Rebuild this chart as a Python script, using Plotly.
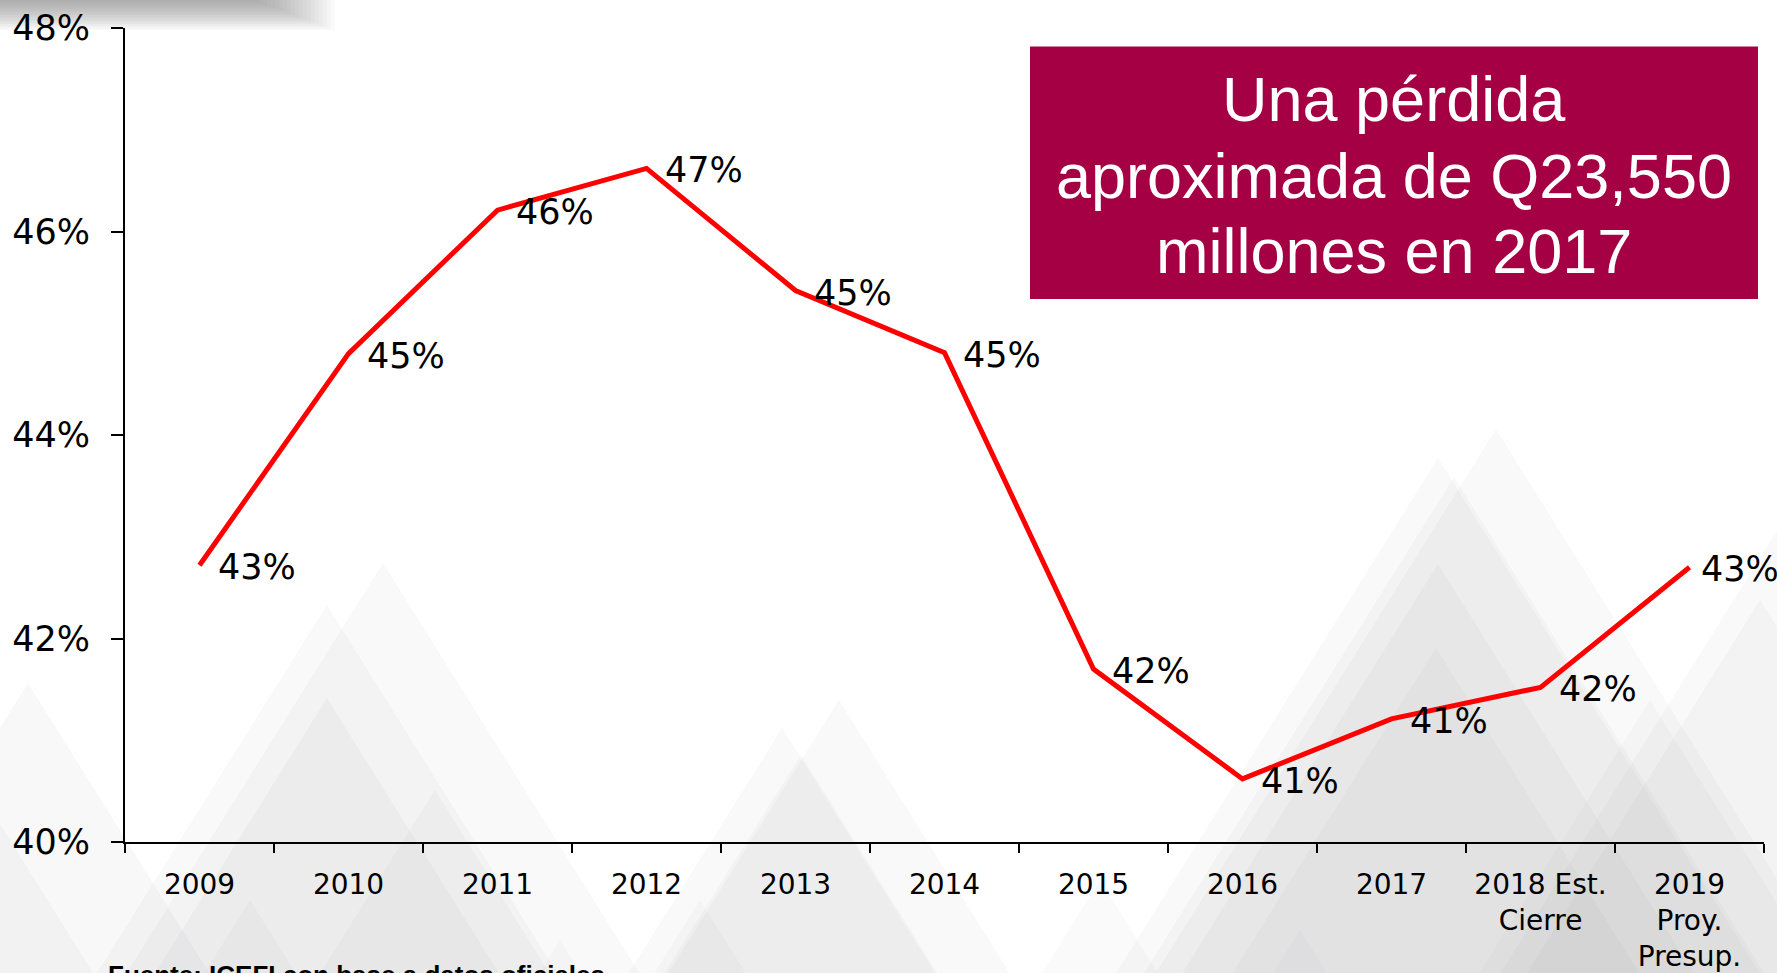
import plotly.graph_objects as go

# ---------------- data ----------------
categories = ["2009", "2010", "2011", "2012", "2013", "2014", "2015", "2016",
              "2017", "2018 Est.<br>Cierre", "2019<br>Proy.<br>Presup."]
values = [42.72, 44.80, 46.21, 46.62, 45.42, 44.81, 41.70, 40.62, 41.21, 41.52, 42.70]
labels = ["43%", "45%", "46%", "47%", "45%", "45%", "42%", "41%", "41%", "42%", "43%"]
y_ticks = [40, 42, 44, 46, 48]
box_lines = ["Una pérdida", "aproximada de Q23,550", "millones en 2017"]
source_text = "Fuente: ICEFI con base a datos oficiales"

# ---------------- geometry helpers ----------------
W, H = 1777, 973
L, R, T, B = 125, 13, 28, 131
PW, PH = W - L - R, H - T - B


def px(x):
    return (x - L) / PW


def py(y):
    return (H - B - y) / PH


n = len(values)
idx = list(range(n))

fig = go.Figure()

fig.add_trace(go.Scatter(
    x=idx, y=values, mode="lines",
    line=dict(color="#FF0000", width=5),
    hoverinfo="skip", showlegend=False,
))

# data labels
for i, (v, t) in enumerate(zip(values, labels)):
    fig.add_annotation(
        x=i, y=v, xref="x", yref="y", text=t, showarrow=False,
        xanchor="left", yanchor="middle",
        xshift=16 if i < n - 1 else 9, yshift=-2,
        font=dict(family="DejaVu Sans", size=35, color="black"),
    )

shapes = []

# decorative background triangles (mountain pattern)
tri = [
    (383, 563, 0.05), (327, 605, 0.05), (327, 698, 0.06), (28, 683, 0.06),
    (-40, 760, 0.05), (435, 790, 0.05), (250, 900, 0.045),
    (839, 700, 0.05), (782, 728, 0.05), (801, 755, 0.05), (700, 900, 0.045),
    (1496, 429, 0.05), (1438, 458, 0.05), (1454, 477, 0.05), (1438, 564, 0.06),
    (1436, 648, 0.05), (1790, 510, 0.05), (1760, 600, 0.05), (1650, 700, 0.045),
    (1100, 880, 0.045), (560, 940, 0.04), (1300, 930, 0.04),
]
s = 1.6
base = 1010
for (x0, y0, op) in tri:
    hw = (base - y0) / s
    path = "M {:.4f},{:.4f} L {:.4f},{:.4f} L {:.4f},{:.4f} Z".format(
        px(x0 - hw), py(base), px(x0), py(y0), px(x0 + hw), py(base))
    shapes.append(dict(type="path", path=path, xref="paper", yref="paper",
                       fillcolor="rgb(140,140,146)", opacity=op,
                       line=dict(width=0), layer="below"))

# top-left soft shadow
for k in range(20):
    shapes.append(dict(type="rect", xref="paper", yref="paper",
                       x0=px(-10), x1=px(335 - 4 * k), y0=py(-10), y1=py(30 - 1.5 * k),
                       fillcolor="rgb(110,110,110)", opacity=0.03,
                       line=dict(width=0), layer="below"))

# callout box
shapes.append(dict(type="rect", xref="paper", yref="paper",
                   x0=px(1030), x1=px(1758), y0=py(46.5), y1=py(299),
                   fillcolor="#A50044", line=dict(width=0), layer="above"))

fig.update_layout(shapes=shapes)

line_y = [98.6, 175.7, 250.5]
for txt, yy in zip(box_lines, line_y):
    fig.add_annotation(
        x=px(1394), y=py(yy), xref="paper", yref="paper", text=txt,
        showarrow=False, xanchor="center", yanchor="middle",
        font=dict(family="Liberation Sans, Arial", size=63, color="white"),
    )

fig.add_annotation(
    x=px(106), y=py(958), xref="paper", yref="paper",
    text="<b>" + source_text + "</b>", showarrow=False,
    xanchor="left", yanchor="top",
    font=dict(family="Liberation Sans, Arial", size=26, color="black"),
)

fig.update_layout(
    width=W, height=H,
    margin=dict(l=L, r=R, t=T, b=B, pad=0, autoexpand=False),
    paper_bgcolor="white", plot_bgcolor="rgba(0,0,0,0)",
    showlegend=False,
    xaxis=dict(
        range=[-0.5, n - 0.5], tickvals=[i for i in idx], ticktext=categories,
        showline=True, linecolor="black", linewidth=2,
        ticks="", showgrid=False, zeroline=False, automargin=False,
        tickfont=dict(family="DejaVu Sans", size=28, color="black"),
        ticklabelstandoff=16,
        minor=dict(tickvals=[i - 0.5 for i in range(n + 1)], ticks="outside",
                   ticklen=9, tickwidth=2, tickcolor="black", showgrid=False),
    ),
    yaxis=dict(
        range=[40, 48], tickvals=y_ticks,
        ticktext=[f"{v}%" for v in y_ticks],
        showline=True, linecolor="black", linewidth=2,
        ticks="outside", ticklen=12, tickwidth=2, tickcolor="black",
        showgrid=False, zeroline=False, automargin=False,
        tickfont=dict(family="DejaVu Sans", size=35, color="black"),
        ticklabelstandoff=14,
    ),
)

fig.write_html("out.html", config={"displayModeBar": False},
               post_script="document.body.style.margin='0';document.body.style.overflow='hidden';")
